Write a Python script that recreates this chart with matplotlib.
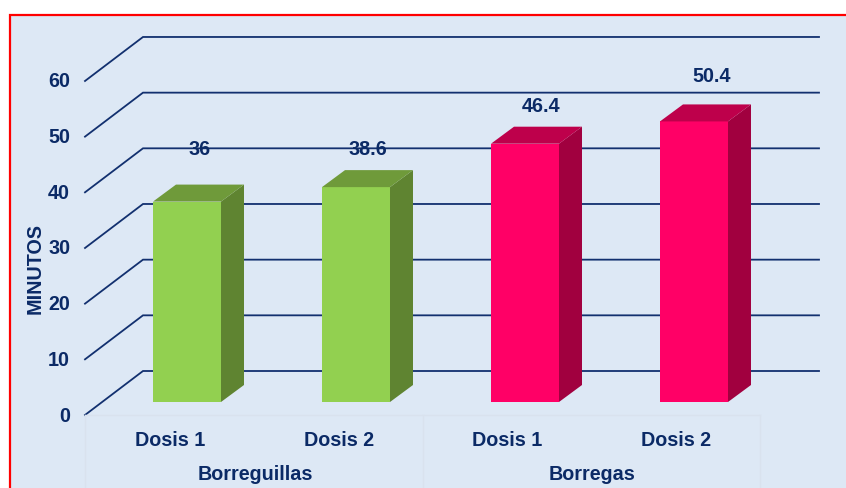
import matplotlib
matplotlib.use('Agg')
import matplotlib.pyplot as plt
from matplotlib.patches import Polygon, Rectangle

plt.rcParams['font.family'] = ['Liberation Sans', 'DejaVu Sans']

# Data
doses = ['Dosis 1', 'Dosis 2', 'Dosis 1', 'Dosis 2']
groups = ['Borreguillas', 'Borregas']
minutes = [36, 38.6, 46.4, 50.4]
value_labels = ['36', '38.6', '46.4', '50.4']
y_ticks = [0, 10, 20, 30, 40, 50, 60]
bar_colors = ['#92D050', '#92D050', '#FF0066', '#FF0066']
side_colors = ['#5F8431', '#5F8431', '#A1003F', '#A1003F']
top_colors = ['#6F9A3A', '#6F9A3A', '#BE004B', '#BE004B']

# label offsets in pixels from the bar: sideways and above its top
label_shift = [12.5, 11.5, 16.5, 18]
label_gaps = [52, 38, 37, 45]

text_color = '#0B2A66'
grid_color = '#12306F'
panel_color = '#DDE8F5'
fs = 14.2

# scale of the chart in pixels
W, H = 846, 488
px_x = 169.0        # pixels between two categories
px_y = 5.567        # pixels per minute
x0_px = 187.0       # pixel x of the first category
y0_px = 415.0       # pixel y of value 0 on the front edge


def dx(p):
    return p / px_x


def dy(p):
    return p / px_y


def X(p):
    return (p - x0_px) / px_x


def Y(p):
    return (y0_px - p) / px_y


fig = plt.figure(figsize=(W / 100, H / 100), dpi=100, facecolor='white')
ax = fig.add_axes([0, 0, 1, 1])
ax.set_xlim(X(0), X(W))
ax.set_ylim(Y(H), Y(0))
ax.axis('off')

# Panel and red border
ax.add_patch(Rectangle((X(10), Y(H + 5)), dx(W + 5 - 10), dy(H + 5 - 15), facecolor=panel_color,
                       edgecolor='#FF0000', linewidth=1.6, zorder=1))

# Gridlines on floor and back wall
for v in y_ticks:
    ax.plot([X(85), X(143), X(819)], [v, v + dy(44), v + dy(44)], color=grid_color, lw=1.3, zorder=2,
            solid_joinstyle='miter')
    ax.text(X(70), v - dy(1), str(v), ha='right', va='center', fontsize=fs, fontweight='bold',
            color=text_color, zorder=6)

# Category table lines
sep = '#D9E2EE'
ax.plot([X(85), X(760)], [Y(415), Y(415)], color=sep, lw=1, zorder=2)
for xp in [85, 423, 760]:
    ax.plot([X(xp), X(xp)], [Y(415), Y(H)], color=sep, lw=1, zorder=2)

# Bars with depth
bar_w = dx(68)
depth_x = dx(23)
depth_y = dy(17)
base = dy(13)
for i, val in enumerate(minutes):
    left = i - bar_w / 2
    right = i + bar_w / 2
    top = base + val
    ax.add_patch(Rectangle((left, base), bar_w, val, facecolor=bar_colors[i], edgecolor='none', zorder=4))
    ax.add_patch(Polygon([(right, base), (right + depth_x, base + depth_y),
                          (right + depth_x, top + depth_y), (right, top)],
                         facecolor=side_colors[i], edgecolor='none', zorder=4))
    ax.add_patch(Polygon([(left, top), (left + depth_x, top + depth_y),
                          (right + depth_x, top + depth_y), (right, top)],
                         facecolor=top_colors[i], edgecolor='none', zorder=4))
    ax.text(i + dx(label_shift[i]), top + dy(label_gaps[i]), value_labels[i], ha='center', va='center', fontsize=fs,
            fontweight='bold', color=text_color, zorder=6)
    ax.text(X(170 + 168.7 * i), Y(440), doses[i], ha='center', va='center', fontsize=fs,
            fontweight='bold', color=text_color, zorder=6)

# Group labels and axis title
ax.text(X(255), Y(474.5), groups[0], ha='center', va='center', fontsize=fs, fontweight='bold', color=text_color, zorder=6)
ax.text(X(592), Y(474.5), groups[1], ha='center', va='center', fontsize=fs, fontweight='bold', color=text_color, zorder=6)
ax.text(X(35), Y(269), 'MINUTOS', rotation=90, ha='center', va='center', fontsize=fs, fontweight='bold', color=text_color, zorder=6)

fig.savefig('out.png', dpi=100)
